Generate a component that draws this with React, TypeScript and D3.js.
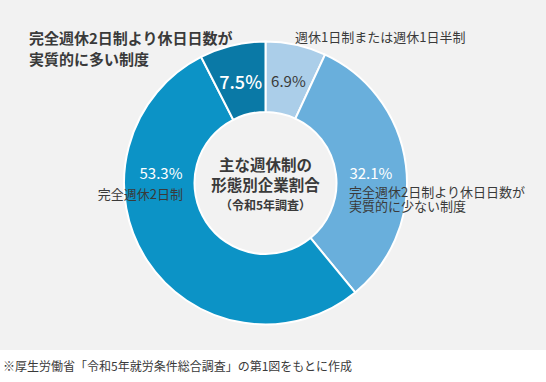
import React from "react";
import * as d3 from "d3";

const categories = [
  "週休1日制または週休1日半制",
  "完全週休2日制より休日日数が実質的に少ない制度",
  "完全週休2日制",
  "完全週休2日制より休日日数が実質的に多い制度",
];
const values = [6.9, 32.1, 53.3, 7.5];
const colors = ["#abcee9", "#69afdc", "#0c93c6", "#0a79a6"];
const pctColors = ["#3a3a3a", "#ffffff", "#ffffff", "#ffffff"];
const pctSizes = [15, 15, 15, 18];
const pctWeights = [400, 400, 400, 500];
const centerLines = ["主な週休制の", "形態別企業割合"];
const centerSub = "（令和5年調査）";
const footnote = "※厚生労働省「令和5年就労条件総合調査」の第1図をもとに作成";

const W = 546;
const H = 382;
const FONT = "'Noto Sans CJK JP', 'Noto Sans', sans-serif";

export default function App() {
  const cx = 265.5;
  const cy = 183;
  const rOuter = 141.5;
  const rInner = 71;

  const pie = d3.pie<number>().sort(null).value((d) => d);
  const arcs = pie(values);
  const arc = d3.arc<d3.PieArcDatum<number>>().innerRadius(rInner).outerRadius(rOuter);
  const labelArc = d3.arc<any>().innerRadius(105).outerRadius(105);

  const pctPos = arcs.map((a, i) => {
    if (i === 2) {
      const ang = (275.5 * Math.PI) / 180;
      return labelArc.centroid({ startAngle: ang, endAngle: ang } as any);
    }
    return arc.centroid(a);
  });

  const textColor = "#3a3a3a";

  return (
    <svg
      width={W}
      height={H}
      style={{ position: "absolute", left: 0, top: 0, fontFamily: FONT }}
    >
      <rect x={0} y={0} width={W} height={350} fill="#f2f2f2" />
      <rect x={0} y={350} width={W} height={H - 350} fill="#ffffff" />
      <g transform={`translate(${cx},${cy})`}>
        {arcs.map((a, i) => (
          <path key={i} d={arc(a) || ""} fill={colors[i]} stroke="#ffffff" strokeWidth={2} />
        ))}
        {arcs.map((a, i) => (
          <text
            key={"p" + i}
            x={pctPos[i][0]}
            y={pctPos[i][1] + (i === 0 ? 1.5 : i === 1 ? 3 : i === 3 ? 1 : 0)}
            textAnchor="middle"
            dominantBaseline="central"
            fill={pctColors[i]}
            fontSize={pctSizes[i]}
            fontWeight={pctWeights[i]}
          >
            {values[i].toFixed(1)}%
          </text>
        ))}
        {centerLines.map((t, i) => (
          <text
            key={"c" + i}
            x={0}
            y={-19.5 + i * 20.5}
            textAnchor="middle"
            dominantBaseline="central"
            fill={textColor}
            fontSize={15.5}
            fontWeight={700}
          >
            {t}
          </text>
        ))}
        <text
          x={0}
          y={21.5}
          textAnchor="middle"
          dominantBaseline="central"
          fill={textColor}
          fontSize={12}
          fontWeight={700}
        >
          {centerSub}
        </text>
      </g>
      {/* category labels */}
      <text x={29} y={37} dominantBaseline="central" fill={textColor} fontSize={15} fontWeight={700}>
        完全週休2日制より休日日数が
      </text>
      <text x={29} y={58} dominantBaseline="central" fill={textColor} fontSize={15} fontWeight={700}>
        実質的に多い制度
      </text>
      <text x={295} y={36} dominantBaseline="central" fill={textColor} fontSize={13}>
        {categories[0]}
      </text>
      <text x={349} y={191} dominantBaseline="central" fill={textColor} fontSize={13}>
        <tspan x={349} y={191}>完全週休2日制より休日日数が</tspan>
        <tspan x={349} y={205}>実質的に少ない制度</tspan>
      </text>
      <text x={183} y={193} textAnchor="end" dominantBaseline="central" fill={textColor} fontSize={13}>
        {categories[2]}
      </text>
      <text x={3} y={365} dominantBaseline="central" fill={textColor} fontSize={12}>
        {footnote}
      </text>
    </svg>
  );
}
